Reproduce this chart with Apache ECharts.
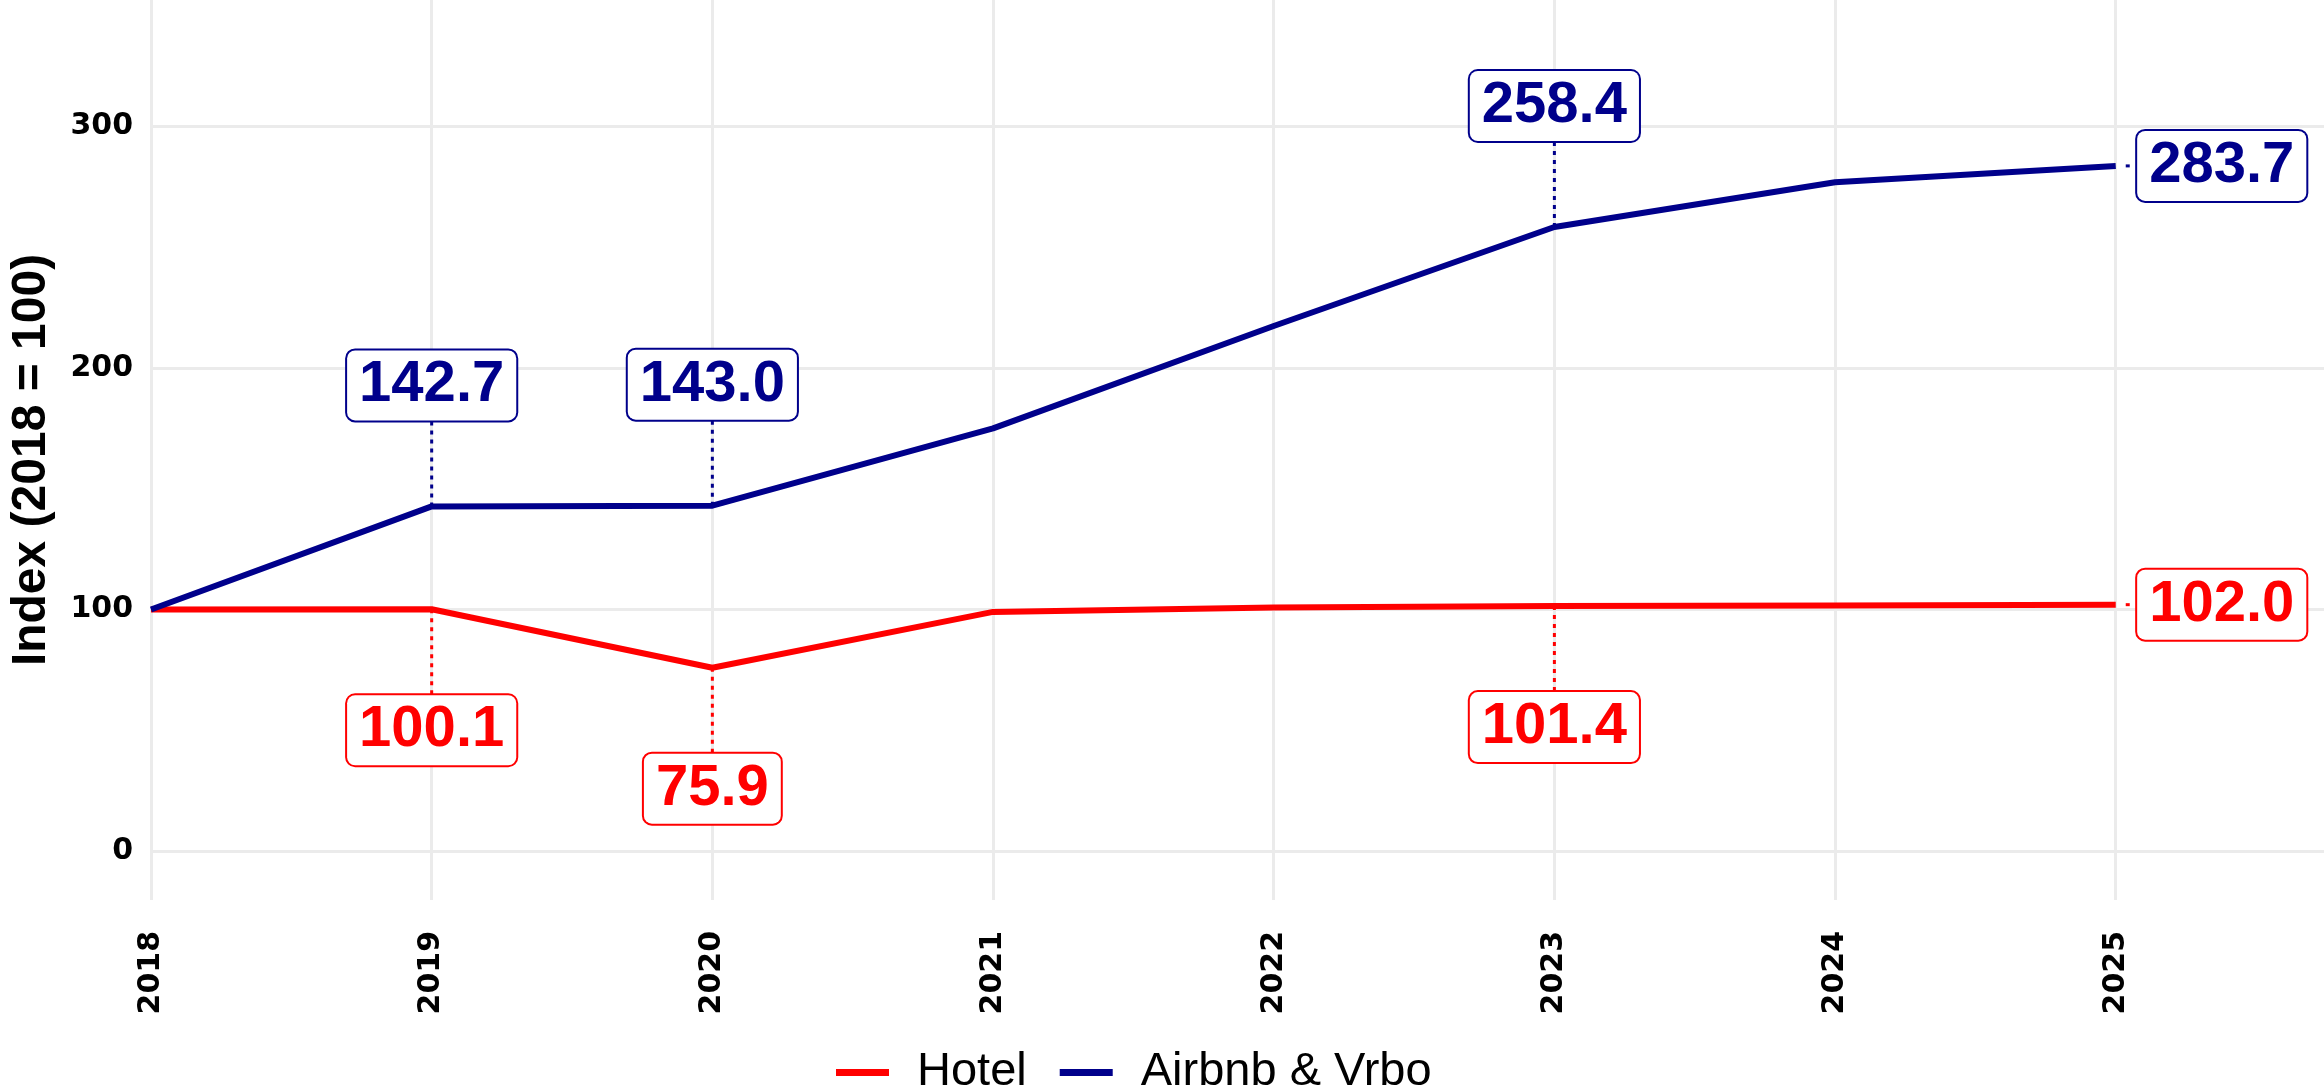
<!DOCTYPE html>
<html>
<head>
<meta charset="utf-8">
<script src="https://cdn.jsdelivr.net/npm/echarts@6/dist/echarts.min.js"></script>
<style>
  html, body { margin: 0; padding: 0; background: #fff; }
  #main { width: 2324px; height: 1092px; }
</style>
</head>
<body>
<div id="main"></div>
<script>
// data
var years = [2018, 2019, 2020, 2021, 2022, 2023, 2024, 2025];
var hotel = [100, 100.1, 75.9, 99.0, 100.8, 101.4, 101.7, 102.0];
var airbnb = [100, 142.7, 143.0, 175.0, 217.4, 258.4, 276.9, 283.7];
var yTicks = [0, 100, 200, 300];
// which years get a boxed label (1 = above, -1 = below, 0 = to the right)
var labelYears = [2019, 2020, 2023, 2025];
var airbnbLabelDir = [1, 1, 1, 0];
var hotelLabelDir = [-1, -1, -1, 0];

var RED = '#FF0000';
var BLUE = '#00008B';

function pairs(vals) {
    return years.map(function (y, i) { return [y, vals[i]]; });
}

function labelData(vals, dirs) {
    return labelYears.map(function (y, i) {
        return [y, vals[years.indexOf(y)], dirs[i]];
    });
}

function labelRenderer(color) {
    return function (params, api) {
        var x = api.value(0), v = api.value(1), dir = api.value(2);
        var p = api.coord([x, v]);
        var cx, cy, seg;
        if (dir === 0) {
            cx = p[0] + 106; cy = p[1];
            seg = [p[0] + 10, p[1], p[0] + 19, p[1]];
        } else {
            cx = p[0]; cy = p[1] - dir * 121;
            seg = [p[0], p[1], p[0], p[1] - dir * 86];
        }
        return {
            type: 'group',
            children: [{
                type: 'line',
                shape: { x1: seg[0], y1: seg[1], x2: seg[2], y2: seg[3] },
                style: { stroke: color, lineWidth: 3, lineDash: [4, 5] }
            }, {
                type: 'text',
                style: {
                    x: cx, y: cy,
                    text: v.toFixed(1),
                    fill: color,
                    fontFamily: 'Liberation Sans',
                    fontWeight: 'bold',
                    fontSize: 58,
                    lineHeight: 60,
                    align: 'center',
                    verticalAlign: 'middle',
                    backgroundColor: '#fff',
                    borderColor: color,
                    borderWidth: 2,
                    borderRadius: 8,
                    padding: [6, 12, 4, 12]
                }
            }]
        };
    };
}

var myChart = echarts.init(document.getElementById('main'));
var option = {
    animation: false,
    backgroundColor: '#fff',
    grid: { left: 147, right: 0, top: 0, height: 900, containLabel: false },
    legend: {
        data: ['Hotel', 'Airbnb & Vrbo'],
        left: 831, top: 1044,
        icon: 'rect',
        itemWidth: 53, itemHeight: 7,
        itemGap: 33,
        textStyle: { fontFamily: 'Liberation Sans', fontSize: 47, color: '#000', padding: [0, 0, 0, 23] }
    },
    xAxis: {
        type: 'value',
        min: 2018, max: 2025.742,
        axisLine: { show: false },
        axisTick: { show: false, customValues: years },
        splitLine: { show: true, lineStyle: { color: '#EBEBEB', width: 3 } },
        axisLabel: {
            customValues: years,
            formatter: function (v) { return String(v); },
            rotate: 90, margin: 31,
            fontFamily: 'DejaVu Sans', fontWeight: 'bold', fontSize: 30, color: '#000'
        }
    },
    yAxis: {
        type: 'value',
        min: -20.3, max: 352.4,
        name: 'Index (2018 = 100)',
        nameLocation: 'middle',
        nameGap: 95,
        nameTextStyle: { fontFamily: 'Liberation Sans', fontWeight: 'bold', fontSize: 48, color: '#000', padding: [0, 20, 0, 0] },
        axisLine: { show: false },
        axisTick: { show: false, customValues: yTicks },
        splitLine: { show: true, lineStyle: { color: '#EBEBEB', width: 3 } },
        axisLabel: {
            customValues: yTicks,
            margin: 18,
            fontFamily: 'DejaVu Sans', fontWeight: 'bold', fontSize: 30, color: '#000'
        }
    },
    series: [{
        name: 'Hotel',
        type: 'line',
        data: pairs(hotel),
        showSymbol: false,
        color: RED,
        lineStyle: { width: 6, color: RED }
    }, {
        name: 'Airbnb & Vrbo',
        type: 'line',
        data: pairs(airbnb),
        showSymbol: false,
        color: BLUE,
        lineStyle: { width: 6, color: BLUE }
    }, {
        type: 'custom',
        renderItem: labelRenderer(RED),
        data: labelData(hotel, hotelLabelDir),
        z: 5, silent: true
    }, {
        type: 'custom',
        renderItem: labelRenderer(BLUE),
        data: labelData(airbnb, airbnbLabelDir),
        z: 5, silent: true
    }]
};
myChart.setOption(option);
</script>
</body>
</html>
